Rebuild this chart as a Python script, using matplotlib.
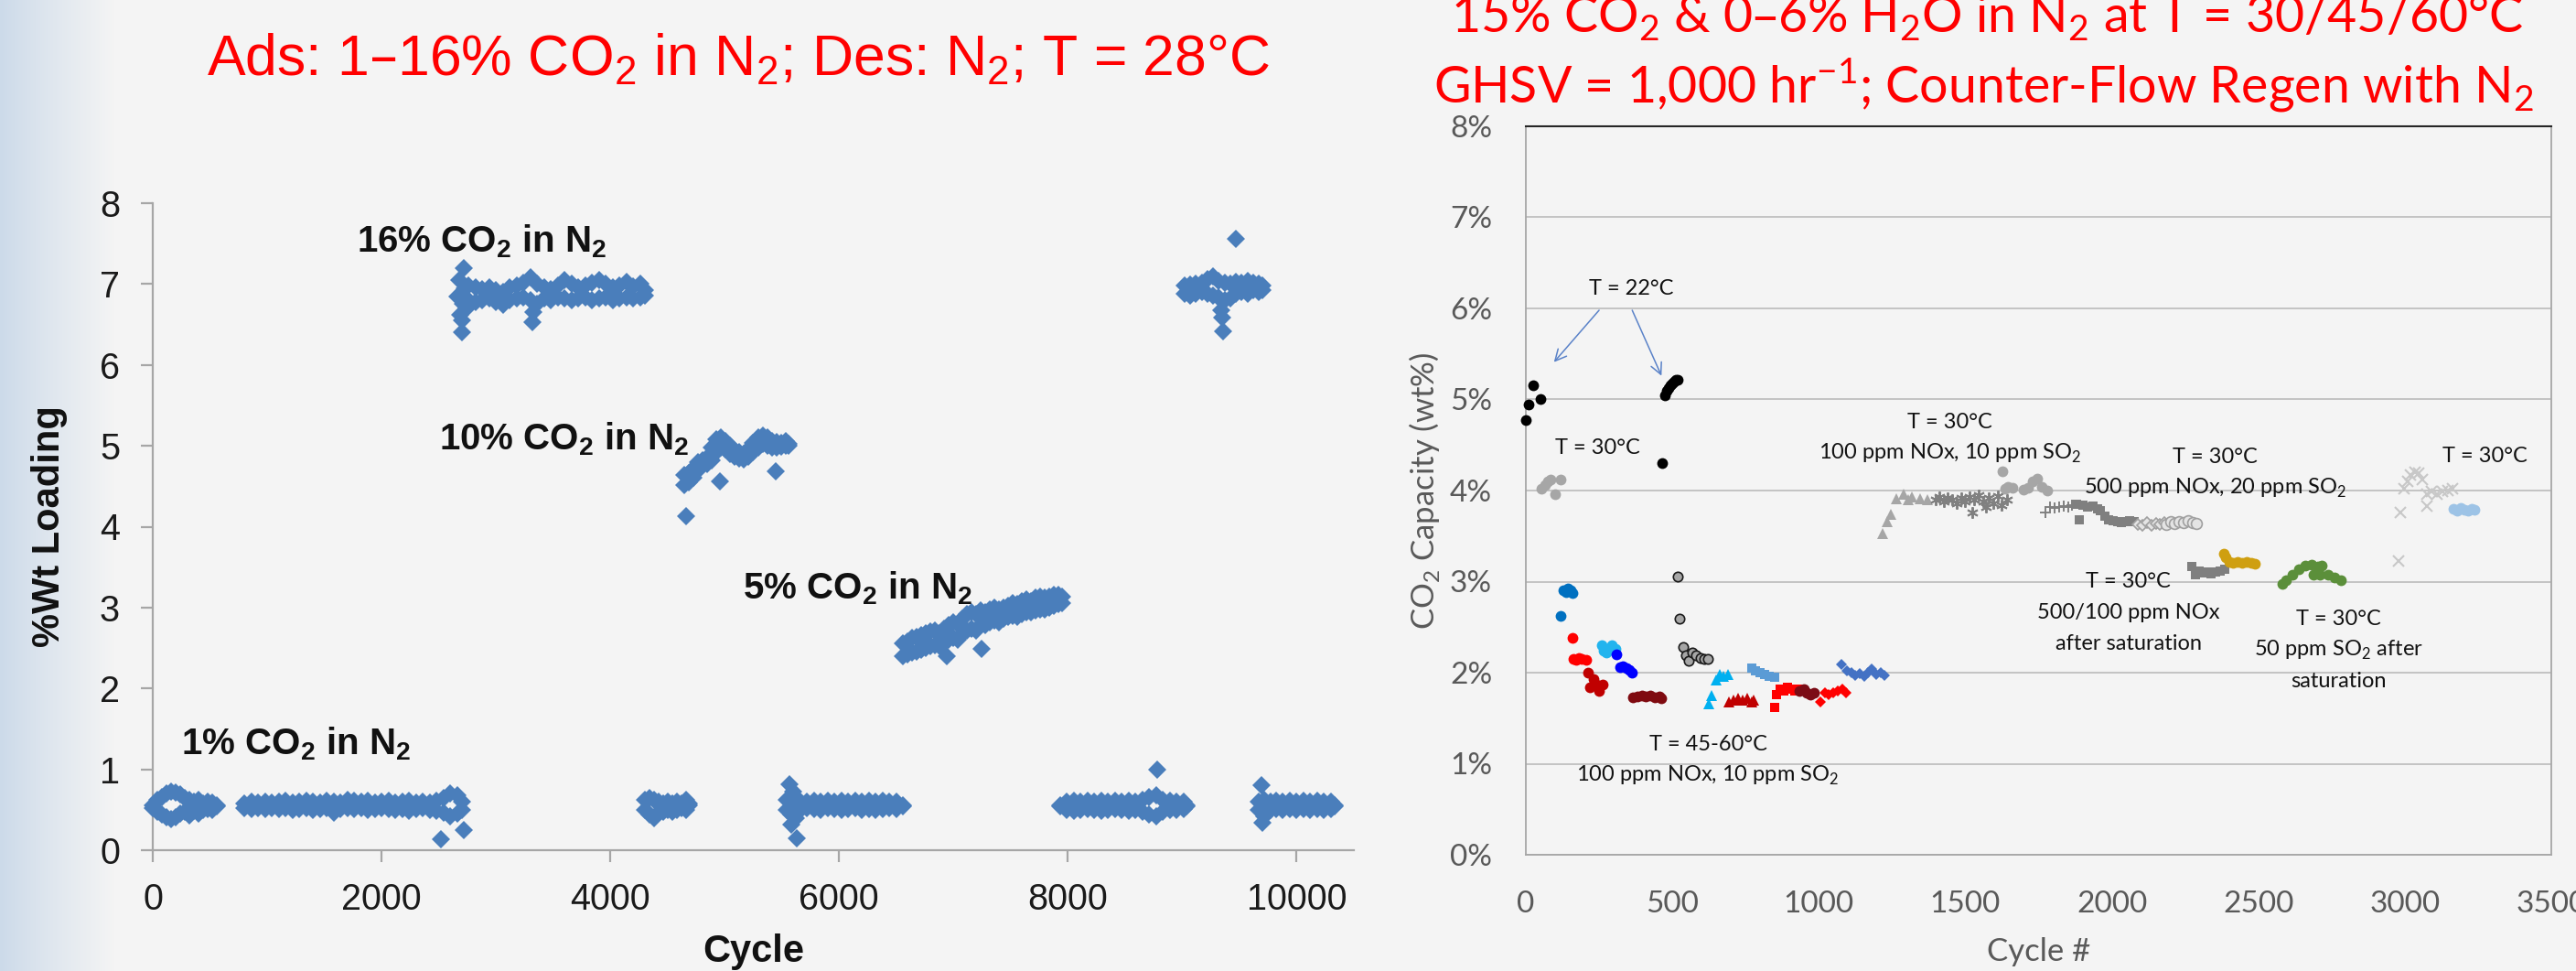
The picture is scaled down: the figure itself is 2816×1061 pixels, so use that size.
import numpy as np
import matplotlib
matplotlib.use("Agg")
import matplotlib.pyplot as plt
from matplotlib.ticker import FuncFormatter

plt.rcParams['font.family'] = ['Liberation Sans', 'DejaVu Sans']

# ===================== LEFT CHART DATA (cycle, %Wt loading) =====================
# 1% CO2 block (first)
c1_x  = [0, 40, 80, 120, 160, 200, 240, 280, 320, 360, 400, 440, 480, 520, 560]
c1_hi = [0.56, 0.62, 0.66, 0.70, 0.72, 0.71, 0.69, 0.65, 0.62, 0.60, 0.62, 0.58, 0.60, 0.59, 0.56]
c1_lo = [0.52, 0.47, 0.44, 0.41, 0.39, 0.41, 0.45, 0.48, 0.43, 0.49, 0.45, 0.50, 0.51, 0.50, 0.54]
# 1% CO2 block (long)
c2_x  = [800, 860, 920, 980, 1040, 1100, 1160, 1220, 1280, 1340, 1400, 1460, 1520, 1580, 1640, 1700, 1760,
         1820, 1880, 1940, 2000, 2060, 2120, 2180, 2240, 2300, 2360, 2420, 2480, 2540, 2600, 2660, 2700]
c2_hi = [0.58, 0.60, 0.59, 0.60, 0.59, 0.60, 0.61, 0.59, 0.60, 0.61, 0.60, 0.59, 0.61, 0.60, 0.59, 0.62, 0.61,
         0.60, 0.61, 0.59, 0.60, 0.61, 0.59, 0.60, 0.61, 0.59, 0.60, 0.59, 0.61, 0.64, 0.70, 0.68, 0.60]
c2_lo = [0.52, 0.51, 0.52, 0.51, 0.52, 0.51, 0.52, 0.50, 0.51, 0.52, 0.50, 0.51, 0.52, 0.46, 0.51, 0.52, 0.51,
         0.52, 0.50, 0.51, 0.52, 0.51, 0.50, 0.51, 0.49, 0.51, 0.52, 0.50, 0.49, 0.46, 0.42, 0.45, 0.50]
# 16% CO2 block (first)
c3_x  = [2760, 2820, 2880, 2940, 3000, 3060, 3120, 3180, 3240, 3300, 3360, 3420, 3480, 3540, 3600, 3660, 3720,
         3780, 3840, 3900, 3960, 4020, 4080, 4140, 4200, 4260, 4300]
c3_hi = [6.98, 6.96, 6.94, 6.96, 6.92, 6.90, 6.96, 6.98, 7.02, 7.08, 7.00, 6.96, 6.94, 6.98, 7.05, 7.00, 6.96,
         6.98, 7.02, 7.05, 7.00, 6.96, 6.98, 7.03, 6.97, 7.00, 6.92]
c3_lo = [6.80, 6.78, 6.80, 6.82, 6.78, 6.74, 6.80, 6.82, 6.84, 6.80, 6.76, 6.82, 6.80, 6.84, 6.82, 6.80, 6.82,
         6.84, 6.80, 6.82, 6.84, 6.80, 6.82, 6.84, 6.82, 6.84, 6.86]
c3s_x = [2660, 2680, 2690, 2700, 2705, 2710, 2720, 2730, 2740, 3318, 3330]
c3s_y = [6.85, 7.05, 6.62, 6.40, 6.55, 6.75, 7.20, 6.95, 6.70, 6.53, 6.65]
# 1% CO2 block (second)
c4_x  = [4300, 4340, 4380, 4420, 4460, 4500, 4540, 4580, 4620, 4660, 4690]
c4_hi = [0.62, 0.65, 0.62, 0.60, 0.58, 0.60, 0.58, 0.60, 0.58, 0.62, 0.58]
c4_lo = [0.50, 0.44, 0.40, 0.46, 0.48, 0.50, 0.48, 0.50, 0.52, 0.50, 0.55]
# 10% CO2 block
c5_x  = [4650, 4690, 4730, 4770, 4810, 4850, 4890, 4930, 4970, 5010, 5050, 5090, 5130, 5170, 5210, 5250,
         5290, 5330, 5370, 5410, 5450, 5490, 5530, 5560]
c5_hi = [4.64, 4.66, 4.72, 4.80, 4.82, 4.85, 4.98, 5.08, 5.10, 5.06, 5.00, 4.95, 4.92, 4.90, 4.96, 5.04,
         5.10, 5.13, 5.10, 5.06, 5.05, 5.04, 5.06, 5.02]
c5_lo = [4.52, 4.55, 4.60, 4.70, 4.76, 4.78, 4.82, 4.92, 4.98, 4.96, 4.90, 4.86, 4.84, 4.83, 4.86, 4.92,
         4.98, 5.02, 5.00, 4.98, 4.98, 4.99, 5.00, 5.00]
c5s_x = [4660, 4958, 5448]
c5s_y = [4.13, 4.56, 4.69]
# 1% CO2 block (third)
c6_x  = [5540, 5580, 5620, 5660, 5720, 5780, 5840, 5900, 5960, 6020, 6080, 6140, 6200, 6260, 6320, 6380,
         6440, 6500, 6560]
c6_hi = [0.62, 0.66, 0.60, 0.60, 0.60, 0.61, 0.60, 0.61, 0.60, 0.61, 0.60, 0.61, 0.60, 0.61, 0.60, 0.61,
         0.60, 0.60, 0.56]
c6_lo = [0.50, 0.44, 0.40, 0.50, 0.52, 0.51, 0.50, 0.52, 0.51, 0.50, 0.51, 0.52, 0.50, 0.51, 0.50, 0.51,
         0.52, 0.51, 0.54]
c6s_x = [5562, 5600, 5632, 5580]
c6s_y = [0.82, 0.72, 0.15, 0.32]
# 5% CO2 block
c7_x  = [6560, 6600, 6640, 6680, 6720, 6760, 6800, 6840, 6880, 6920, 6960, 7000, 7040, 7080, 7120, 7160,
         7200, 7240, 7280, 7320, 7360, 7400, 7440, 7480, 7520, 7560, 7600, 7640, 7680, 7720, 7760, 7800,
         7840, 7880, 7920, 7950]
c7_hi = [2.56, 2.58, 2.62, 2.64, 2.66, 2.68, 2.70, 2.72, 2.68, 2.74, 2.78, 2.82, 2.80, 2.86, 2.92, 2.94,
         2.92, 2.96, 2.94, 2.98, 3.00, 2.98, 3.00, 3.02, 3.06, 3.04, 3.08, 3.10, 3.08, 3.12, 3.14, 3.12,
         3.14, 3.16, 3.16, 3.13]
c7_lo = [2.40, 2.42, 2.44, 2.46, 2.48, 2.50, 2.52, 2.54, 2.52, 2.56, 2.60, 2.62, 2.60, 2.68, 2.72, 2.74,
         2.72, 2.78, 2.78, 2.82, 2.84, 2.82, 2.86, 2.88, 2.90, 2.88, 2.92, 2.94, 2.94, 2.96, 2.98, 2.98,
         3.00, 3.02, 3.04, 3.06]
c7s_x = [6938, 7244]
c7s_y = [2.40, 2.49]
# 1% CO2 block (fourth)
c8_x  = [7930, 7990, 8050, 8110, 8170, 8230, 8290, 8350, 8410, 8470, 8530, 8590, 8650, 8710, 8770, 8830,
         8890, 8950, 9010, 9040]
c8_hi = [0.56, 0.60, 0.61, 0.60, 0.61, 0.60, 0.61, 0.60, 0.61, 0.60, 0.61, 0.60, 0.62, 0.66, 0.68, 0.62,
         0.61, 0.60, 0.60, 0.56]
c8_lo = [0.54, 0.50, 0.49, 0.50, 0.51, 0.50, 0.49, 0.50, 0.51, 0.50, 0.49, 0.50, 0.48, 0.44, 0.42, 0.48,
         0.50, 0.50, 0.51, 0.54]
c8s_x = [8783]
c8s_y = [1.00]
# 16% CO2 block (second)
c9_x  = [9020, 9070, 9120, 9170, 9220, 9270, 9320, 9370, 9420, 9470, 9520, 9570, 9620, 9670, 9700]
c9_hi = [6.98, 6.99, 7.00, 7.02, 7.06, 7.09, 7.04, 7.02, 7.00, 7.03, 7.02, 7.04, 7.02, 7.00, 6.98]
c9_lo = [6.88, 6.86, 6.88, 6.90, 6.88, 6.86, 6.84, 6.80, 6.82, 6.88, 6.90, 6.88, 6.92, 6.90, 6.92]
c9s_x = [9340, 9350, 9354, 9469]
c9s_y = [6.68, 6.58, 6.42, 7.56]
# 1% CO2 block (fifth)
c10_x  = [9670, 9720, 9770, 9820, 9880, 9940, 10000, 10060, 10120, 10180, 10240, 10300, 10330]
c10_hi = [0.60, 0.62, 0.60, 0.61, 0.60, 0.61, 0.60, 0.61, 0.60, 0.61, 0.60, 0.60, 0.56]
c10_lo = [0.50, 0.42, 0.50, 0.51, 0.50, 0.51, 0.50, 0.51, 0.50, 0.51, 0.50, 0.51, 0.54]
c10s_x = [9693, 9700]
c10s_y = [0.80, 0.34]
# isolated low points of the long 1% block
c2s_x = [2522, 2718]
c2s_y = [0.14, 0.25]

left_xticks = [0, 2000, 4000, 6000, 8000, 10000]
left_yticks = [0, 1, 2, 3, 4, 5, 6, 7, 8]

# ===================== RIGHT CHART DATA (cycle, CO2 capacity %) =====================
r_black_x = [0, 10, 26, 49, 466, 474, 480, 486, 492, 498, 505, 512, 518]
r_black_y = [4.77, 4.94, 5.16, 5.00, 4.30, 5.05, 5.10, 5.13, 5.16, 5.18, 5.20, 5.22, 5.22]
r_lgray1_x = [52, 66, 76, 84, 100, 119]
r_lgray1_y = [4.02, 4.06, 4.10, 4.12, 3.96, 4.12]
r_blue1_x = [119, 128, 137, 145, 152, 160]
r_blue1_y = [2.62, 2.90, 2.88, 2.92, 2.90, 2.87]
r_red1_x = [160, 163, 172, 182, 192, 205]
r_red1_y = [2.38, 2.15, 2.14, 2.16, 2.15, 2.14]
r_dred1_x = [212, 220, 230, 240, 250, 262]
r_dred1_y = [2.00, 1.84, 1.93, 1.87, 1.80, 1.87]
r_cyan1_x = [258, 266, 275, 283, 295, 305]
r_cyan1_y = [2.30, 2.24, 2.22, 2.26, 2.30, 2.26]
r_pblue_x = [310, 322, 332, 342, 353, 363]
r_pblue_y = [2.20, 2.06, 2.07, 2.05, 2.03, 2.00]
r_maroon1_x = [365, 380, 395, 410, 425, 440, 455, 462]
r_maroon1_y = [1.73, 1.74, 1.75, 1.74, 1.75, 1.73, 1.74, 1.72]
r_gopen_x = [519, 526, 536, 547, 557, 568, 582, 596, 610, 620]
r_gopen_y = [3.06, 2.59, 2.28, 2.19, 2.13, 2.22, 2.19, 2.16, 2.15, 2.15]
r_cyantri_x = [624, 635, 650, 662, 675, 690]
r_cyantri_y = [1.66, 1.75, 1.92, 1.98, 1.96, 1.98]
r_dredtri_x = [693, 710, 725, 740, 755, 770, 777]
r_dredtri_y = [1.68, 1.70, 1.72, 1.70, 1.72, 1.68, 1.70]
r_lbsq_x = [770, 785, 800, 815, 830, 848]
r_lbsq_y = [2.05, 2.02, 2.00, 1.98, 1.96, 1.95]
r_redsq_x = [850, 856, 868, 880, 893, 905, 918, 930]
r_redsq_y = [1.62, 1.76, 1.82, 1.80, 1.84, 1.82, 1.80, 1.82]
r_maroon2_x = [935, 948, 960, 972, 985]
r_maroon2_y = [1.80, 1.82, 1.78, 1.76, 1.78]
r_reddia_x = [1006, 1020, 1035, 1050, 1065, 1080, 1092]
r_reddia_y = [1.68, 1.78, 1.76, 1.78, 1.80, 1.82, 1.78]
r_bluedia_x = [1078, 1095, 1110, 1125, 1140, 1155, 1168, 1180, 1195, 1210, 1225]
r_bluedia_y = [2.09, 2.02, 2.00, 1.97, 1.99, 1.96, 2.00, 2.04, 1.98, 2.00, 1.97]
r_graytri_x = [1219, 1234, 1247, 1266, 1288, 1305, 1319, 1345, 1370]
r_graytri_y = [3.53, 3.66, 3.74, 3.91, 3.96, 3.90, 3.93, 3.91, 3.90]
r_ast_x = [1398, 1412, 1426, 1440, 1455, 1470, 1485, 1500, 1515, 1523, 1530, 1545, 1560, 1572, 1580,
           1595, 1610, 1625, 1642]
r_ast_y = [3.90, 3.93, 3.88, 3.92, 3.90, 3.86, 3.92, 3.88, 3.93, 3.76, 3.90, 3.95, 3.88, 3.82, 3.92,
           3.86, 3.94, 3.84, 3.90]
r_lgray2_x = [1628, 1635, 1645, 1660, 1700, 1715, 1730, 1746, 1760, 1781]
r_lgray2_y = [4.21, 4.02, 4.04, 4.03, 4.01, 4.03, 4.10, 4.13, 4.04, 4.00]
r_plus_x = [1774, 1790, 1805, 1820, 1835, 1850, 1865]
r_plus_y = [3.76, 3.82, 3.81, 3.82, 3.83, 3.82, 3.84]
r_dgsq1_x = [1881, 1889, 1900, 1917, 1935, 1950, 1960, 1975, 1989, 2005, 2020, 2031, 2045, 2060, 2075]
r_dgsq1_y = [3.85, 3.68, 3.84, 3.82, 3.83, 3.80, 3.78, 3.72, 3.68, 3.67, 3.66, 3.65, 3.66, 3.67, 3.66]
r_odia_x = [2090, 2105, 2120, 2135, 2150, 2165, 2180]
r_odia_y = [3.63, 3.62, 3.65, 3.62, 3.64, 3.63, 3.65]
r_ocirc_x = [2185, 2200, 2215, 2230, 2245, 2260, 2275, 2288]
r_ocirc_y = [3.63, 3.66, 3.64, 3.66, 3.65, 3.67, 3.65, 3.64]
r_dgsq2_x = [2274, 2285, 2297, 2310, 2325, 2340, 2355, 2370, 2385]
r_dgsq2_y = [3.17, 3.08, 3.12, 3.10, 3.11, 3.09, 3.11, 3.12, 3.14]
r_gold_x = [2381, 2390, 2400, 2415, 2430, 2445, 2460, 2475, 2489]
r_gold_y = [3.31, 3.27, 3.22, 3.21, 3.22, 3.21, 3.22, 3.21, 3.20]
r_green_x = [2581, 2596, 2617, 2639, 2660, 2681, 2703, 2717, 2689, 2710, 2739, 2760, 2781]
r_green_y = [2.97, 3.02, 3.08, 3.14, 3.18, 3.19, 3.17, 3.18, 3.08, 3.08, 3.08, 3.05, 3.02]
r_lgx_x = [2979, 2986, 2996, 3010, 3020, 3034, 3046, 3060, 3074, 3074, 3091, 3110, 3129, 3146, 3163]
r_lgx_y = [3.23, 3.76, 4.02, 4.10, 4.17, 4.20, 4.19, 4.12, 3.96, 3.83, 3.99, 3.96, 3.99, 4.00, 4.02]
r_lblue_x = [3165, 3178, 3190, 3203, 3215, 3228, 3238]
r_lblue_y = [3.80, 3.78, 3.81, 3.79, 3.78, 3.80, 3.79]

right_xticks = [0, 500, 1000, 1500, 2000, 2500, 3000, 3500]
right_yticks = [0, 1, 2, 3, 4, 5, 6, 7, 8]

# ===================== FIGURE =====================
W, H, DPI = 2816, 1061, 100
fig = plt.figure(figsize=(W / DPI, H / DPI), dpi=DPI, facecolor='#f5f5f5')


def fx(px):
    return px / W


def fy(py):
    return 1 - py / H


# slide background with a blue-gray fade on the left edge
bg = fig.add_axes([0, 0, 1, 1], zorder=-10)
bg.axis('off')
t = np.clip(np.arange(W) / 125.0, 0, 1) ** 0.9
c0 = np.array([0.80, 0.855, 0.915])
c1 = np.array([0.957, 0.957, 0.957])
img = c0[None, :] * (1 - t[:, None]) + c1[None, :] * t[:, None]
bg.imshow(img[None, :, :], aspect='auto', extent=[0, 1, 0, 1], interpolation='bilinear')
bg.set_xlim(0, 1)
bg.set_ylim(0, 1)

# ---------------- LEFT CHART ----------------
LF = ['Liberation Sans', 'DejaVu Sans']
axL = fig.add_axes([fx(167), fy(929), (1480 - 167) / W, (929 - 222) / H])
axL.patch.set_visible(False)
axL.set_xlim(0, 10500)
axL.set_ylim(0, 8)
for s in ['top', 'right']:
    axL.spines[s].set_visible(False)
for s in ['left', 'bottom']:
    axL.spines[s].set_color('#a6a6a6')
    axL.spines[s].set_linewidth(1.6)
axL.set_xticks(left_xticks)
axL.set_yticks(left_yticks)
axL.tick_params(axis='both', direction='out', length=9.4, width=1.6, color='#a6a6a6',
                labelsize=28.5, labelcolor='#1a1a1a')
axL.tick_params(axis='y', pad=16.5)
axL.tick_params(axis='x', pad=16)

dstyle = dict(ls='none', marker='D', ms=10.4, color='#4a7ebb', mew=0, clip_on=False, zorder=3)
pairs = [(c1_x, c1_hi), (c1_x, c1_lo), (c2_x, c2_hi), (c2_x, c2_lo), (c2s_x, c2s_y),
         (c3_x, c3_hi), (c3_x, c3_lo), (c3s_x, c3s_y), (c4_x, c4_hi), (c4_x, c4_lo),
         (c5_x, c5_hi), (c5_x, c5_lo), (c5s_x, c5s_y), (c6_x, c6_hi), (c6_x, c6_lo), (c6s_x, c6s_y),
         (c7_x, c7_hi), (c7_x, c7_lo), (c7s_x, c7s_y), (c8_x, c8_hi), (c8_x, c8_lo), (c8s_x, c8s_y),
         (c9_x, c9_hi), (c9_x, c9_lo), (c9s_x, c9s_y), (c10_x, c10_hi), (c10_x, c10_lo), (c10s_x, c10s_y)]
for xs, ys in pairs:
    axL.plot(xs, ys, **dstyle)

lab = dict(fontsize=29, fontweight='bold', color='#111111', family=LF, ha='left', va='baseline')
axL.text(1784, 7.40, r'16% CO$_\mathregular{2}$ in N$_\mathregular{2}$', **lab)
axL.text(2504, 4.95, r'10% CO$_\mathregular{2}$ in N$_\mathregular{2}$', **lab)
axL.text(5160, 3.11, r'5% CO$_\mathregular{2}$ in N$_\mathregular{2}$', **lab)
axL.text(248, 1.18, r'1% CO$_\mathregular{2}$ in N$_\mathregular{2}$', **lab)

fig.text(fx(54), fy(575), '%Wt Loading', rotation=90, ha='center', va='center',
         fontsize=30, fontweight='bold', color='#111111', family=LF)
fig.text(fx(824), fy(1051), 'Cycle', ha='center', va='baseline',
         fontsize=30, fontweight='bold', color='#111111', family=LF)
fig.text(fx(807), fy(83), r'Ads: 1–16% CO$_\mathregular{2}$ in N$_\mathregular{2}$; Des: N$_\mathregular{2}$; T = 28°C',
         ha='center', va='baseline', fontsize=45, color='#ff0000', family=LF)

# ---------------- RIGHT CHART ----------------
RF = ['Lato', 'DejaVu Sans']
axR = fig.add_axes([fx(1668), fy(934), (2789 - 1668) / W, (934 - 138) / H])
axR.patch.set_visible(False)
axR.set_xlim(0, 3500)
axR.set_ylim(0, 8)
axR.set_xticks(right_xticks)
axR.set_yticks(right_yticks)
axR.yaxis.set_major_formatter(FuncFormatter(lambda v, p: f'{int(round(v))}%'))
axR.tick_params(axis='both', length=0, labelsize=24, labelcolor='#595959')
axR.tick_params(axis='y', pad=26.5)
axR.tick_params(axis='x', pad=28)
for lbl in axR.get_xticklabels() + axR.get_yticklabels():
    lbl.set_family(RF)
axR.yaxis.grid(True, color='#bfbfbf', lw=1.3)
axR.set_axisbelow(True)
for s in ['left', 'right', 'bottom']:
    axR.spines[s].set_color('#a6a6a6')
    axR.spines[s].set_linewidth(1.3)
axR.spines['top'].set_color('#262626')
axR.spines['top'].set_linewidth(1.5)


def rp(x, y, **kw):
    base = dict(ls='none', clip_on=False, zorder=3)
    base.update(kw)
    axR.plot(x, y, **base)


rp(r_black_x, r_black_y, marker='o', ms=8.5, color='black', mew=0)
rp(r_lgray1_x, r_lgray1_y, marker='o', ms=8.5, color='#a6a6a6', mew=0)
rp(r_blue1_x, r_blue1_y, marker='o', ms=8.5, color='#0070c0', mew=0)
rp(r_red1_x, r_red1_y, marker='o', ms=8.5, color='#ff0000', mew=0)
rp(r_dred1_x, r_dred1_y, marker='o', ms=8.5, color='#c00000', mew=0)
rp(r_cyan1_x, r_cyan1_y, marker='o', ms=8.5, color='#22b4ee', mew=0)
rp(r_pblue_x, r_pblue_y, marker='o', ms=8.5, color='#0000ff', mew=0)
rp(r_maroon1_x, r_maroon1_y, marker='o', ms=8.5, color='#7f0a10', mew=0)
rp(r_gopen_x, r_gopen_y, marker='o', ms=7.5, mfc='#a6a6a6', mec='#1a1a1a', mew=1.2)
rp(r_cyantri_x, r_cyantri_y, marker='^', ms=8.5, color='#00b0f0', mew=0)
rp(r_dredtri_x, r_dredtri_y, marker='^', ms=8.5, color='#c00000', mew=0)
rp(r_lbsq_x, r_lbsq_y, marker='s', ms=7.5, color='#5b9bd5', mew=0)
rp(r_redsq_x, r_redsq_y, marker='s', ms=7.5, color='#ff0000', mew=0)
rp(r_maroon2_x, r_maroon2_y, marker='o', ms=8.5, color='#7b0c16', mew=0)
rp(r_reddia_x, r_reddia_y, marker='D', ms=6.5, color='#ff0000', mew=0)
rp(r_bluedia_x, r_bluedia_y, marker='D', ms=6.5, color='#4472c4', mew=0)
rp(r_graytri_x, r_graytri_y, marker='^', ms=8.5, color='#a6a6a6', mew=0)
rp(r_ast_x, r_ast_y, marker=(6, 2, 0), ms=9, color='#808080', mew=1.4)
rp(r_lgray2_x, r_lgray2_y, marker='o', ms=8.5, color='#a6a6a6', mew=0)
rp(r_plus_x, r_plus_y, marker='+', ms=8, color='#808080', mew=1.4)
rp(r_dgsq1_x, r_dgsq1_y, marker='s', ms=7.5, color='#7f7f7f', mew=0)
rp(r_odia_x, r_odia_y, marker='D', ms=6, mfc='#e4e4e4', mec='#a0a0a0', mew=1.2)
rp(r_ocirc_x, r_ocirc_y, marker='o', ms=8.5, mfc='#e4e4e4', mec='#a0a0a0', mew=1.2)
rp(r_dgsq2_x, r_dgsq2_y, marker='s', ms=7.5, color='#7f7f7f', mew=0)
rp(r_gold_x, r_gold_y, marker='o', ms=8.5, color='#cf9f10', mew=0)
rp(r_green_x, r_green_y, marker='o', ms=8.5, color='#5b8f3a', mew=0)
rp(r_lgx_x, r_lgx_y, marker='x', ms=8, color='#c8c8c8', mew=1.5)
rp(r_lblue_x, r_lblue_y, marker='o', ms=8.5, color='#9dc3e6', mew=0)

ann = dict(fontsize=17, color='#111111', family=RF, ha='center', va='baseline')
axR.text(361, 6.15, 'T = 22°C', **ann)
axR.text(245, 4.40, 'T = 30°C', **ann)
axR.text(1447, 4.68, 'T = 30°C', **ann)
axR.text(1447, 4.34, r'100 ppm NOx, 10 ppm SO$_\mathregular{2}$', **ann)
axR.text(624, 1.15, 'T = 45-60°C', **ann)
axR.text(620, 0.81, r'100 ppm NOx, 10 ppm SO$_\mathregular{2}$', **ann)
axR.text(2353, 4.30, 'T = 30°C', **ann)
axR.text(2353, 3.96, r'500 ppm NOx, 20 ppm SO$_\mathregular{2}$', **ann)
axR.text(2056, 2.93, 'T = 30°C', **ann)
axR.text(2056, 2.59, '500/100 ppm NOx', **ann)
axR.text(2056, 2.25, 'after saturation', **ann)
axR.text(2774, 2.52, 'T = 30°C', **ann)
axR.text(2774, 2.18, r'50 ppm SO$_\mathregular{2}$ after', **ann)
axR.text(2774, 1.84, 'saturation', **ann)
axR.text(3275, 4.31, 'T = 30°C', **ann)

arrow = dict(arrowstyle='->', color='#5a82c8', lw=1.1, mutation_scale=22, shrinkA=0, shrinkB=0)
axR.annotate('', xy=(96, 5.41), xytext=(250, 5.98), arrowprops=arrow)
axR.annotate('', xy=(463, 5.26), xytext=(363, 5.98), arrowprops=arrow)

fig.text(fx(1557), fy(536), r'CO$_\mathregular{2}$ Capacity (wt%)', rotation=90, ha='center', va='center',
         fontsize=25, color='#595959', family=RF)
fig.text(fx(2229), fy(1050), 'Cycle #', ha='center', va='baseline', fontsize=25, color='#595959', family=RF)

fig.text(fx(2172), fy(35), r'15% CO$_\mathregular{2}$ & 0–6% H$_\mathregular{2}$O in N$_\mathregular{2}$ at T = 30/45/60°C',
         ha='center', va='baseline', fontsize=40, color='#ff0000', family=RF)
fig.text(fx(2168), fy(112), r'GHSV = 1,000 hr$^{\mathregular{-1}}$; Counter-Flow Regen with N$_\mathregular{2}$',
         ha='center', va='baseline', fontsize=40, color='#ff0000', family=RF)

fig.savefig('out.png', dpi=DPI, facecolor=fig.get_facecolor())
